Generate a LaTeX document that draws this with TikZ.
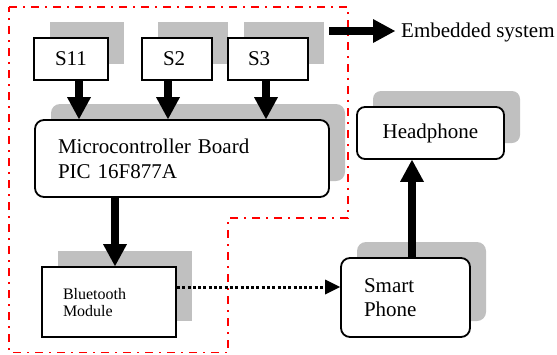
\documentclass[tikz,border=0pt]{standalone}
\usepackage{fontspec}
\setmainfont{Liberation Serif}
\usetikzlibrary{arrows.meta,shadows}
\definecolor{shadowgray}{RGB}{192,192,192}
\definecolor{frame}{RGB}{255,0,0}
\tikzset{
  shad/.style={drop shadow={shadow xshift=16pt,shadow yshift=16pt,fill=shadowgray,opacity=1}},
  bigfont/.style={font=\fontsize{21}{25}\selectfont},
  sbox/.style={draw,line width=1.4pt,fill=white,shad,minimum height=42pt,align=left,bigfont},
  rbox/.style={draw,line width=1.8pt,fill=white,shad,rounded corners=9pt,align=left,bigfont},
  btbox/.style={draw,line width=1.8pt,fill=white,shad,align=left,font=\fontsize{16}{17}\selectfont},
  bigarrow/.style={line width=8pt,-{Triangle[width=24pt,length=22pt,line width=0pt]}},
  dotarrow/.style={line width=3pt,dash pattern=on 3pt off 2.3pt,-{Triangle[width=15pt,length=15pt,line width=0pt]}},
  framestyle/.style={draw=frame,line width=1.7pt,dash pattern=on 8pt off 6pt on 2pt off 6pt}
}
\begin{document}
\begin{tikzpicture}[x=1pt,y=-1pt]
\useasboundingbox (0,0) rectangle (557,354);
% embedded system frame
\draw[framestyle] (9,7) -- (348,7) -- (348,218) -- (228,218) -- (228,352.5) -- (9,352.5) -- cycle;
% nodes
\node[sbox,minimum width=74pt,inner xsep=21pt,text width=32pt] (s11) at (71,59) {S11};
\node[sbox,minimum width=70pt,inner xsep=21pt,text width=28pt] (s2) at (177,59) {S2};
\node[sbox,minimum width=80pt,inner xsep=20pt,text width=40pt] (s3) at (268,59) {S3};
\node[rbox,minimum width=294pt,minimum height=77pt,inner xsep=23pt,text width=248pt] (board) at (182,158.5) {Microcontroller Board\\PIC 16F877A};
\node[btbox,minimum width=134pt,minimum height=70pt,inner xsep=21pt,text width=92pt,text depth=16pt] (bt) at (109,302) {Bluetooth\\Module};
\node[rbox,minimum width=129pt,minimum height=79pt,inner xsep=23pt,text width=83pt,font=\fontsize{21}{24}\selectfont] (smart) at (405.5,297.5) {Smart\\Phone};
\node[rbox,minimum width=147pt,minimum height=52pt,align=center,rounded corners=8pt] (head) at (430.5,133) {Headphone};
\node[bigfont,anchor=west,inner sep=3pt] (emb) at (398,32) {Embedded system};
\coordinate (embstart) at (329,31);
% connectors
\draw[bigarrow] ([xshift=8pt]s11.south) -- ([xshift=8pt]s11.south |- board.north);
\draw[bigarrow] ([xshift=-9pt]s2.south) -- ([xshift=-9pt]s2.south |- board.north);
\draw[bigarrow] ([xshift=-2pt]s3.south) -- ([xshift=-2pt]s3.south |- board.north);
\draw[bigarrow] ([xshift=6pt]bt.north |- board.south) -- ([xshift=6pt]bt.north);
\draw[dotarrow] ([yshift=15pt]bt.east) -- ([yshift=15pt]bt.east -| smart.west);
\draw[bigarrow] ([xshift=6.5pt]smart.north) -- ([xshift=6.5pt]smart.north |- head.south);
\draw[bigarrow,shorten >=3pt] (embstart) -- (emb.west |- embstart);
\end{tikzpicture}
\end{document}
